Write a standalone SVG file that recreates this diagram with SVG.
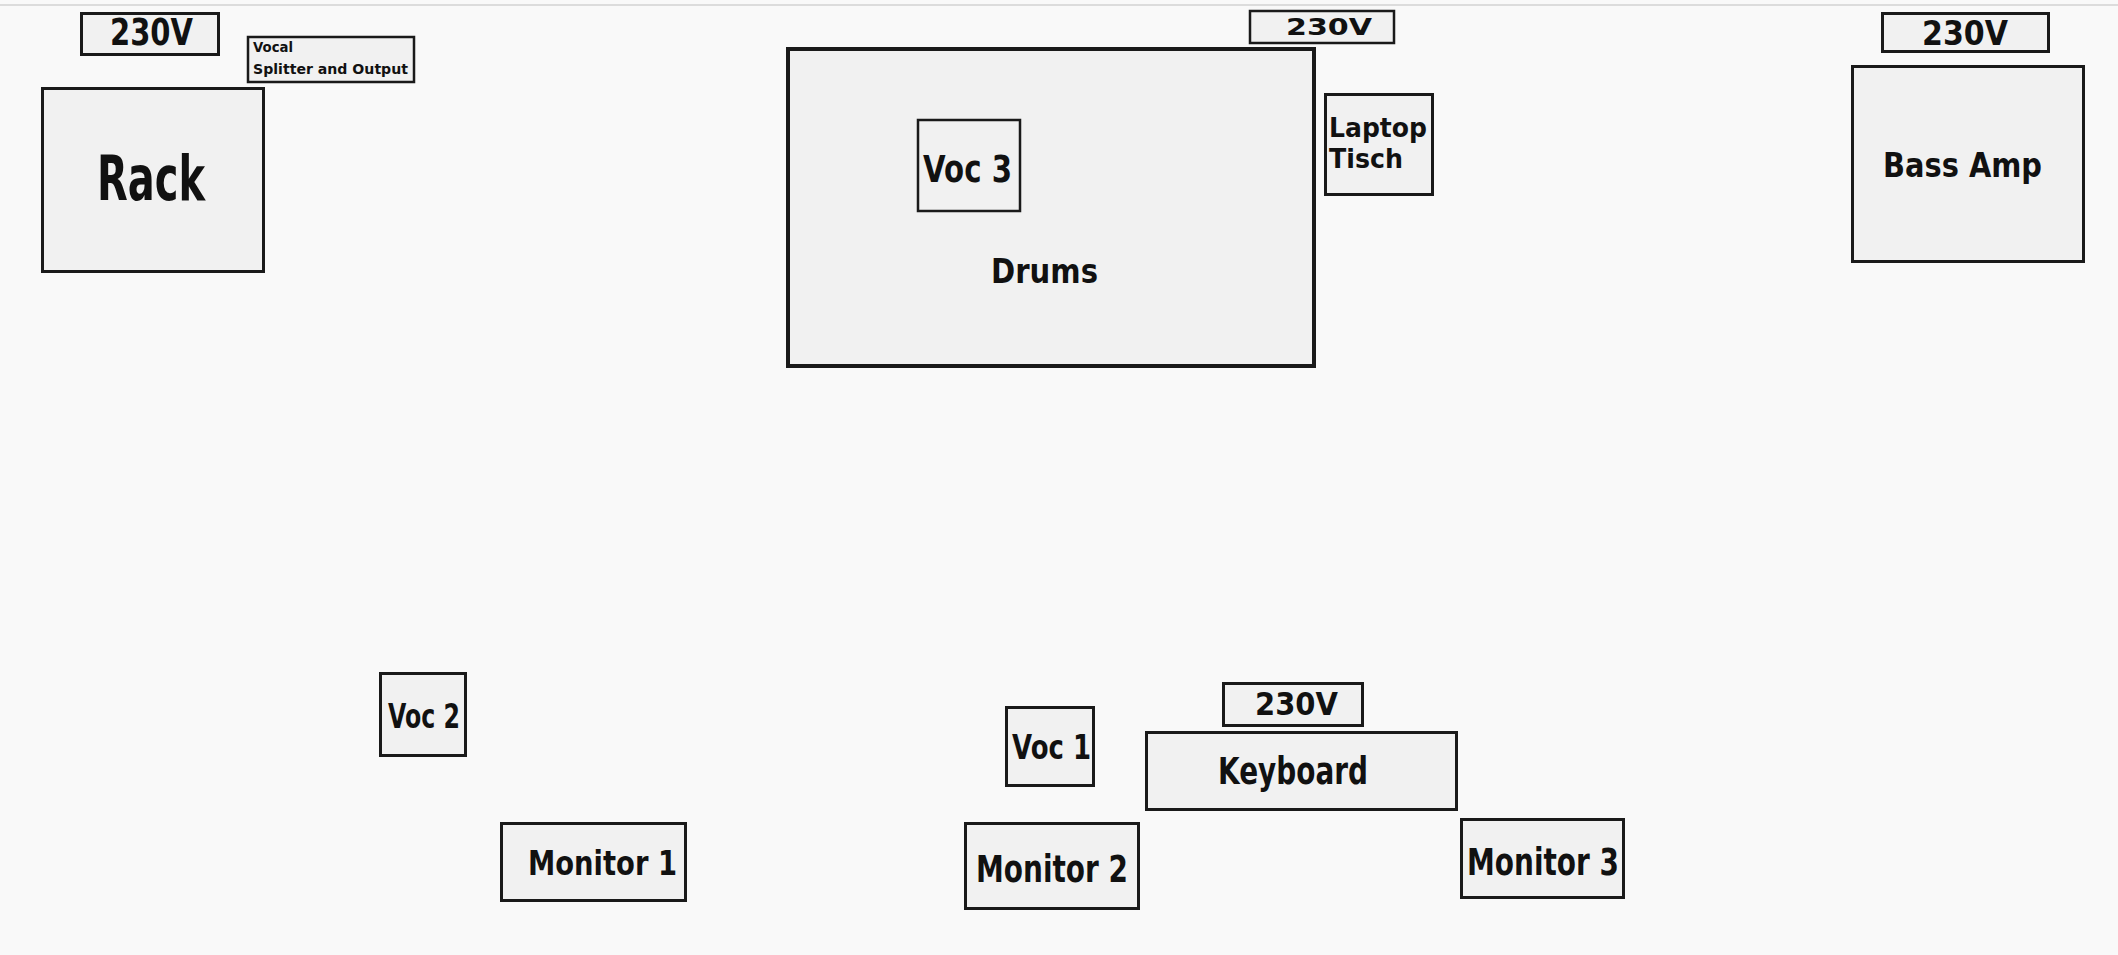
<svg xmlns="http://www.w3.org/2000/svg" width="2118" height="955" viewBox="0 0 2118 955">
<style>
.bg{fill:#f9f9f9}
.box{fill:#f1f1f1;stroke:#1a1a1a;stroke-width:3}
.thin{stroke-width:2.5}
.thick{stroke-width:4}
text{font-family:"DejaVu Sans","Liberation Sans",sans-serif;font-weight:bold;fill:#111}
</style>
<rect class="bg" x="0" y="0" width="2118" height="955"/>
<line x1="0" y1="5" x2="2118" y2="5" stroke="#dcdcdc" stroke-width="2"/>
<g id="connectors"></g>
<g id="power-rack">
<rect class="box" x="81.5" y="13.5" width="137" height="41"/>
<text x="110" y="45" font-size="37" textLength="83" lengthAdjust="spacingAndGlyphs">230V</text>
</g>
<g id="vocal-splitter">
<rect class="box thin" x="248" y="37" width="166" height="45"/>
<text x="253" y="52" font-size="14" textLength="40" lengthAdjust="spacingAndGlyphs">Vocal</text>
<text x="253" y="74" font-size="14" textLength="155" lengthAdjust="spacingAndGlyphs">Splitter and Output</text>
</g>
<g id="rack">
<rect class="box" x="42.5" y="88.5" width="221" height="183"/>
<text x="97" y="200" font-size="62" textLength="108" lengthAdjust="spacingAndGlyphs">Rack</text>
</g>
<g id="power-drums">
<rect class="box thin" x="1250" y="11" width="144" height="32"/>
<text x="1286" y="35" font-size="23" textLength="86" lengthAdjust="spacingAndGlyphs">230V</text>
</g>
<g id="drums">
<rect class="box thick" x="788" y="49" width="526" height="317"/>
<text x="991" y="283" font-size="34" textLength="107" lengthAdjust="spacingAndGlyphs">Drums</text>
</g>
<g id="voc3">
<rect class="box thin" x="918" y="120" width="102" height="91"/>
<text x="923" y="182" font-size="37" textLength="89" lengthAdjust="spacingAndGlyphs">Voc 3</text>
</g>
<g id="laptop">
<rect class="box" x="1325.5" y="94.5" width="107" height="100"/>
<text x="1329" y="137" font-size="26" textLength="98" lengthAdjust="spacingAndGlyphs">Laptop</text>
<text x="1329" y="168" font-size="26" textLength="74" lengthAdjust="spacingAndGlyphs">Tisch</text>
</g>
<g id="power-bass">
<rect class="box" x="1882.5" y="13.5" width="166" height="38"/>
<text x="1922" y="45" font-size="34" textLength="86" lengthAdjust="spacingAndGlyphs">230V</text>
</g>
<g id="bass-amp">
<rect class="box" x="1852.5" y="66.5" width="231" height="195"/>
<text x="1883" y="177" font-size="33" textLength="159" lengthAdjust="spacingAndGlyphs">Bass Amp</text>
</g>
<g id="voc2">
<rect class="box" x="380.5" y="673.5" width="85" height="82"/>
<text x="388" y="728" font-size="34" textLength="72" lengthAdjust="spacingAndGlyphs">Voc 2</text>
</g>
<g id="monitor1">
<rect class="box" x="501.5" y="823.5" width="184" height="77"/>
<text x="528" y="875" font-size="34" textLength="149" lengthAdjust="spacingAndGlyphs">Monitor 1</text>
</g>
<g id="voc1">
<rect class="box" x="1006.5" y="707.5" width="87" height="78"/>
<text x="1012" y="759" font-size="34" textLength="79" lengthAdjust="spacingAndGlyphs">Voc 1</text>
</g>
<g id="power-keyboard">
<rect class="box" x="1223.5" y="683.5" width="139" height="42"/>
<text x="1255" y="715" font-size="32" textLength="83" lengthAdjust="spacingAndGlyphs">230V</text>
</g>
<g id="keyboard">
<rect class="box" x="1146.5" y="732.5" width="310" height="77"/>
<text x="1218" y="784" font-size="37" textLength="150" lengthAdjust="spacingAndGlyphs">Keyboard</text>
</g>
<g id="monitor2">
<rect class="box" x="965.5" y="823.5" width="173" height="85"/>
<text x="976" y="882" font-size="37" textLength="152" lengthAdjust="spacingAndGlyphs">Monitor 2</text>
</g>
<g id="monitor3">
<rect class="box" x="1461.5" y="819.5" width="162" height="78"/>
<text x="1467" y="875" font-size="37" textLength="152" lengthAdjust="spacingAndGlyphs">Monitor 3</text>
</g>
</svg>
